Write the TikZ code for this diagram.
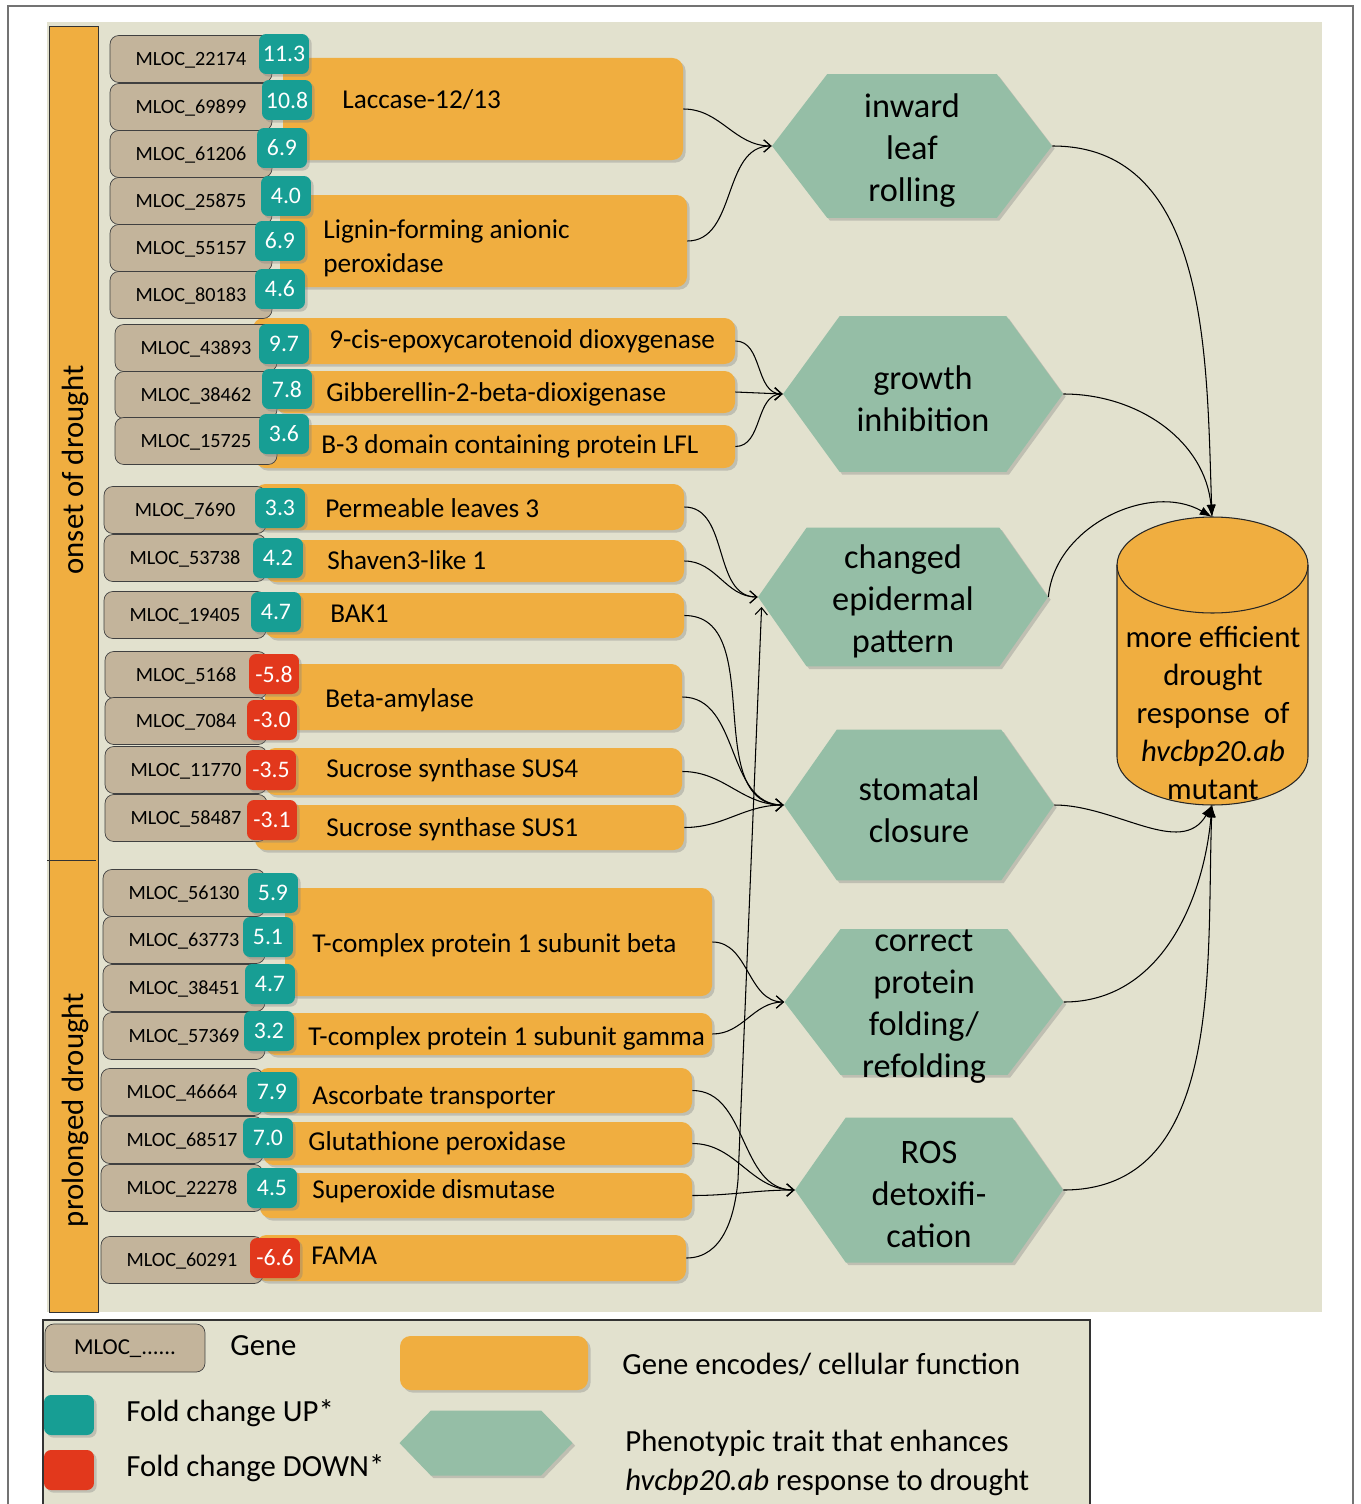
\documentclass[tikz,border=0pt]{standalone}
\usepackage{fontspec}
\setmainfont{Carlito}
\usepackage{tikz}
\usetikzlibrary{shapes.symbols,arrows.meta,positioning,fit,shadows}
\definecolor{bgbeige}{HTML}{E2E1CE}
\definecolor{fnorange}{HTML}{F0AE40}
\definecolor{genetan}{HTML}{C3B49B}
\definecolor{upteal}{HTML}{179E94}
\definecolor{downred}{HTML}{E2381C}
\definecolor{hexgreen}{HTML}{95BEA6}

\begin{document}
\begin{tikzpicture}[x=0.02cm, y=-0.02cm,
  softshadow/.style={drop shadow={shadow xshift=1.5pt, shadow yshift=-1.5pt, opacity=0.35}},
  genebox/.style={draw=black!75, fill=genetan, rounded corners=5pt, minimum width=3.24cm, minimum height=0.94cm, inner sep=0pt, text height=1.8ex, text depth=0.3ex, font=\fontsize{11.5}{13}\selectfont},
  fcbadge/.style={rounded corners=4pt, minimum width=1cm, minimum height=0.8cm, inner sep=0pt, text=white, font=\fontsize{13.5}{15}\selectfont, softshadow},
  upfc/.style={fcbadge, fill=upteal},
  downfc/.style={fcbadge, fill=downred},
  fnbox/.style={fill=fnorange, rounded corners=6pt, inner sep=0pt, softshadow},
  fntext/.style={anchor=west, inner sep=0pt, text height=1.9ex, text depth=0.2ex, font=\fontsize{15.5}{19.3}\selectfont},
  hexbox/.style={signal, signal to=west and east, fill=hexgreen, inner sep=0pt, softshadow},
  hextext/.style={align=center, inner sep=0pt, yshift=-2.5pt, font=\fontsize{19.5}{23.8}\selectfont},
  sidetext/.style={rotate=90, inner sep=0pt, font=\fontsize{17.5}{20}\selectfont},
  toHex/.style={-{Straight Barb[length=4pt,width=7pt]}, line width=0.6pt},
  toCyl/.style={-{Latex[length=7pt,width=5pt]}, line width=0.6pt},
  lgtext/.style={anchor=west, inner sep=0pt, align=left, font=\fontsize{17.5}{20.5}\selectfont}
]
\useasboundingbox (0,0) rectangle (1360,1504);

% frame and panel
\draw[black!55, line width=0.8pt] (8,6) rectangle (1353,1510);
\fill[bgbeige] (47,22) rectangle (1322,1312);
\draw[black!80, fill=fnorange] (49,26) rectangle (98,1312);
\draw[black!80] (47,860) -- (96,860);
\node[sidetext] (lOnset) at (75,470) {onset of drought};
\node[sidetext] (lProlonged) at (75,1110) {prolonged drought};

% cellular functions
\node[fnbox, fit={(283,58) (683,160)}] (fLaccase) {};
\node[fntext] (tLaccase) at (342,101) {Laccase-12/13};
\node[fnbox, fit={(280,195) (687,287)}] (fLignin) {};
\node[anchor=west, inner sep=0pt, align=left, font=\fontsize{15.5}{19.3}\selectfont] (tLignin) at (323,248) {Lignin-forming anionic\\peroxidase};
\node[fnbox, fit={(253,318) (735,364)}] (fNineCis) {};
\node[fntext] (tNineCis) at (329,341) {9-cis-epoxycarotenoid dioxygenase};
\node[fnbox, fit={(275,371) (735,413)}] (fGibb) {};
\node[fntext] (tGibb) at (326,394) {Gibberellin-2-beta-dioxigenase};
\node[fnbox, fit={(255,425) (735,468)}] (fBthree) {};
\node[fntext] (tBthree) at (321,446) {B-3 domain containing protein LFL};
\node[fnbox, fit={(255,484) (684,530)}] (fPerm) {};
\node[fntext] (tPerm) at (325,510) {Permeable leaves 3};
\node[fnbox, fit={(265,540) (684,582)}] (fShaven) {};
\node[fntext] (tShaven) at (327,562) {Shaven3-like 1};
\node[fnbox, fit={(265,593) (684,638)}] (fBak) {};
\node[fntext] (tBak) at (330,615) {BAK1};
\node[fnbox, fit={(265,664) (682,730)}] (fBeta) {};
\node[fntext] (tBeta) at (325,700) {Beta-amylase};
\node[fnbox, fit={(265,748) (682,795)}] (fSusFour) {};
\node[fntext] (tSusFour) at (326,770) {Sucrose synthase SUS4};
\node[fnbox, fit={(255,805) (684,850)}] (fSusOne) {};
\node[fntext] (tSusOne) at (326,829) {Sucrose synthase SUS1};
\node[fnbox, fit={(285,888) (712,996)}] (fTcpBeta) {};
\node[fntext] (tTcpBeta) at (312,945) {T-complex protein 1 subunit beta};
\node[fnbox, fit={(265,1013) (712,1055)}] (fTcpGamma) {};
\node[fntext] (tTcpGamma) at (308,1038) {T-complex protein 1 subunit gamma};
\node[fnbox, fit={(258,1068) (692,1113)}] (fAscorb) {};
\node[fntext] (tAscorb) at (312,1097) {Ascorbate transporter};
\node[fnbox, fit={(263,1122) (692,1165)}] (fGlut) {};
\node[fntext] (tGlut) at (308,1143) {Glutathione peroxidase};
\node[fnbox, fit={(260,1173) (692,1218)}] (fSod) {};
\node[fntext] (tSod) at (312,1191) {Superoxide dismutase};
\node[fnbox, fit={(256,1235) (686,1281)}] (fFama) {};
\node[fntext] (tFama) at (311,1257) {FAMA};

% genes
\node[genebox] (g22174) at (191,59) {MLOC\_22174};
\node[genebox] (g69899) at (191,107) {MLOC\_69899};
\node[genebox] (g61206) at (191,154) {MLOC\_61206};
\node[genebox] (g25875) at (191,201) {MLOC\_25875};
\node[genebox] (g55157) at (191,248) {MLOC\_55157};
\node[genebox] (g80183) at (191,295) {MLOC\_80183};
\node[genebox] (g43893) at (196,348) {MLOC\_43893};
\node[genebox] (g38462) at (196,395) {MLOC\_38462};
\node[genebox] (g15725) at (196,441) {MLOC\_15725};
\node[genebox] (g7690) at (185,510) {MLOC\_7690};
\node[genebox] (g53738) at (185,558) {MLOC\_53738};
\node[genebox] (g19405) at (185,615) {MLOC\_19405};
\node[genebox] (g5168) at (186,675) {MLOC\_5168};
\node[genebox] (g7084) at (186,721) {MLOC\_7084};
\node[genebox] (g11770) at (186,770) {MLOC\_11770};
\node[genebox] (g58487) at (186,818) {MLOC\_58487};
\node[genebox] (g56130) at (184,893) {MLOC\_56130};
\node[genebox] (g63773) at (184,940) {MLOC\_63773};
\node[genebox] (g38451) at (184,988) {MLOC\_38451};
\node[genebox] (g57369) at (184,1036) {MLOC\_57369};
\node[genebox] (g46664) at (182,1092) {MLOC\_46664};
\node[genebox] (g68517) at (182,1140) {MLOC\_68517};
\node[genebox] (g22278) at (182,1188) {MLOC\_22278};
\node[genebox] (g60291) at (182,1260) {MLOC\_60291};

% fold changes
\node[upfc] (b22174) at (284,54) {11.3};
\node[upfc] (b69899) at (287,100) {10.8};
\node[upfc] (b61206) at (282,148) {6.9};
\node[upfc] (b25875) at (286,196) {4.0};
\node[upfc] (b55157) at (280,241) {6.9};
\node[upfc] (b80183) at (280,289) {4.6};
\node[upfc] (b43893) at (284,344) {9.7};
\node[upfc] (b38462) at (287,389) {7.8};
\node[upfc] (b15725) at (284,434) {3.6};
\node[upfc] (b7690) at (280,508) {3.3};
\node[upfc] (b53738) at (278,558) {4.2};
\node[upfc] (b19405) at (276,612) {4.7};
\node[downfc] (b5168) at (274,674) {-5.8};
\node[downfc] (b7084) at (272,720) {-3.0};
\node[downfc] (b11770) at (271,770) {-3.5};
\node[downfc] (b58487) at (272,820) {-3.1};
\node[upfc] (b56130) at (273,893) {5.9};
\node[upfc] (b63773) at (268,937) {5.1};
\node[upfc] (b38451) at (270,984) {4.7};
\node[upfc] (b57369) at (269,1031) {3.2};
\node[upfc] (b46664) at (272,1092) {7.9};
\node[upfc] (b68517) at (268,1138) {7.0};
\node[upfc] (b22278) at (272,1188) {4.5};
\node[downfc] (b60291) at (275,1258) {-6.6};

% phenotypic traits
\node[hexbox, minimum width=5.6cm, minimum height=2.88cm, signal pointer angle=105] (hInward) at (912,146) {};
\node[hextext] (tInward) at (hInward) {inward\\leaf\\rolling};
\node[hexbox, minimum width=5.6cm, minimum height=3.12cm, signal pointer angle=108] (hGrowth) at (923,394) {};
\node[hextext] (tGrowth) at (hGrowth) {growth\\inhibition};
\node[hexbox, minimum width=5.8cm, minimum height=2.78cm, signal pointer angle=110] (hEpid) at (903,597) {};
\node[hextext] (tEpid) at (hEpid) {changed\\epidermal\\pattern};
\node[hexbox, minimum width=5.4cm, minimum height=3.02cm, signal pointer angle=110] (hStom) at (919,805) {};
\node[hextext] (tStom) at (hStom) {stomatal\\closure};
\node[hexbox, minimum width=5.58cm, minimum height=2.92cm, signal pointer angle=105] (hFold) at (924,1002) {};
\node[hextext] (tFold) at (hFold) {correct\\protein\\folding/\\refolding};
\node[hexbox, minimum width=5.36cm, minimum height=2.9cm, signal pointer angle=110] (hRos) at (929,1190) {};
\node[hextext] (tRos) at (hRos) {ROS\\detoxifi-\\cation};

% drought response cylinder
\filldraw[fill=fnorange, draw=black!85, line width=0.6pt] (1117,565) -- (1117,757)
  arc[start angle=180, end angle=360, x radius=1.91cm, y radius=0.96cm] -- (1308,565)
  arc[start angle=0, end angle=180, x radius=1.91cm, y radius=0.96cm] -- cycle;
\draw[black!85, line width=0.6pt] (1117,565) arc[start angle=180, end angle=360, x radius=1.91cm, y radius=0.96cm];
\coordinate (cylTop) at (1212,517);
\coordinate (cylBot) at (1212,805);
\node[align=center, inner sep=0pt, font=\fontsize{17.5}{21.5}\selectfont] (tCyl) at (1213,713) {more efficient\\drought\\response\ \ of\\\textit{hvcbp20.ab}\\mutant};

% genes to traits
\draw[toHex] (fLaccase.east) to[out=0,in=180] (hInward.west);
\draw[toHex] (fLignin.east) to[out=0,in=180] (hInward.west);
\draw[toHex] (fNineCis.east) to[out=0,in=180] (hGrowth.west);
\draw[toHex] (fGibb.east) -- (hGrowth.west);
\draw[toHex] (fBthree.east) to[out=0,in=180] (hGrowth.west);
\draw[toHex] (fPerm.east) to[out=0,in=180] (hEpid.west);
\draw[toHex] (fShaven.east) to[out=0,in=180] (hEpid.west);
\coordinate (famaBend) at (738,1180);
\draw[toHex] (fFama.east) to[out=0,in=-95] (famaBend) -- ([shift={(4,10)}]hEpid.west);
\draw[toHex] (fBak.east) to[out=0,in=180] (hStom.west);
\draw[toHex] (fBeta.east) to[out=0,in=180] (hStom.west);
\draw[toHex] (fSusFour.east) to[out=0,in=180] (hStom.west);
\draw[toHex] (fSusOne.east) to[out=0,in=180] (hStom.west);
\draw[toHex] (fTcpBeta.east) to[out=0,in=180] (hFold.west);
\draw[toHex] (fTcpGamma.east) to[out=0,in=180] (hFold.west);
\draw[toHex] (fAscorb.east) to[out=0,in=180] (hRos.west);
\draw[toHex] (fGlut.east) to[out=0,in=180] (hRos.west);
\draw[toHex] (fSod.east) to[out=0,in=180] (hRos.west);

% traits to response
\draw[toCyl] (hInward.east) to[out=0,in=92] (cylTop);
\draw[toCyl] (hGrowth.east) to[out=0,in=95] (cylTop);
\draw[toCyl] (hEpid.east) to[out=85,in=150] (cylTop);
\draw[toCyl] (hStom.east) to[out=0,in=-120] (cylBot);
\draw[toCyl] (hFold.east) to[out=0,in=-95] (cylBot);
\draw[toCyl] (hRos.east) to[out=0,in=-92] (cylBot);

% legend
\draw[black!80, fill=bgbeige, line width=0.8pt] (43,1320) rectangle (1090,1510);
\node[genebox, minimum width=3.2cm, minimum height=0.96cm, font=\fontsize{13}{15}\selectfont] (lgGene) at (125,1348) {MLOC\_......};
\node[lgtext] (lgGeneTxt) at (230,1346) {Gene};
\node[fnbox, fit={(400,1336) (588,1390)}] (lgFn) {};
\node[lgtext] (lgFnTxt) at (622,1364) {Gene encodes/ cellular function};
\node[upfc] (lgUp) at (69,1415) {};
\node[lgtext] (lgUpTxt) at (126,1413) {Fold change UP*};
\node[downfc] (lgDown) at (69,1470) {};
\node[lgtext] (lgDownTxt) at (126,1468) {Fold change DOWN*};
\node[hexbox, minimum width=3.46cm, minimum height=1.3cm, signal pointer angle=92] (lgHex) at (486,1443) {};
\node[lgtext, font=\fontsize{17.5}{22}\selectfont] (lgHexTxt) at (625,1463) {Phenotypic trait that enhances\\\textit{hvcbp20.ab} response to drought};
\end{tikzpicture}
\end{document}
